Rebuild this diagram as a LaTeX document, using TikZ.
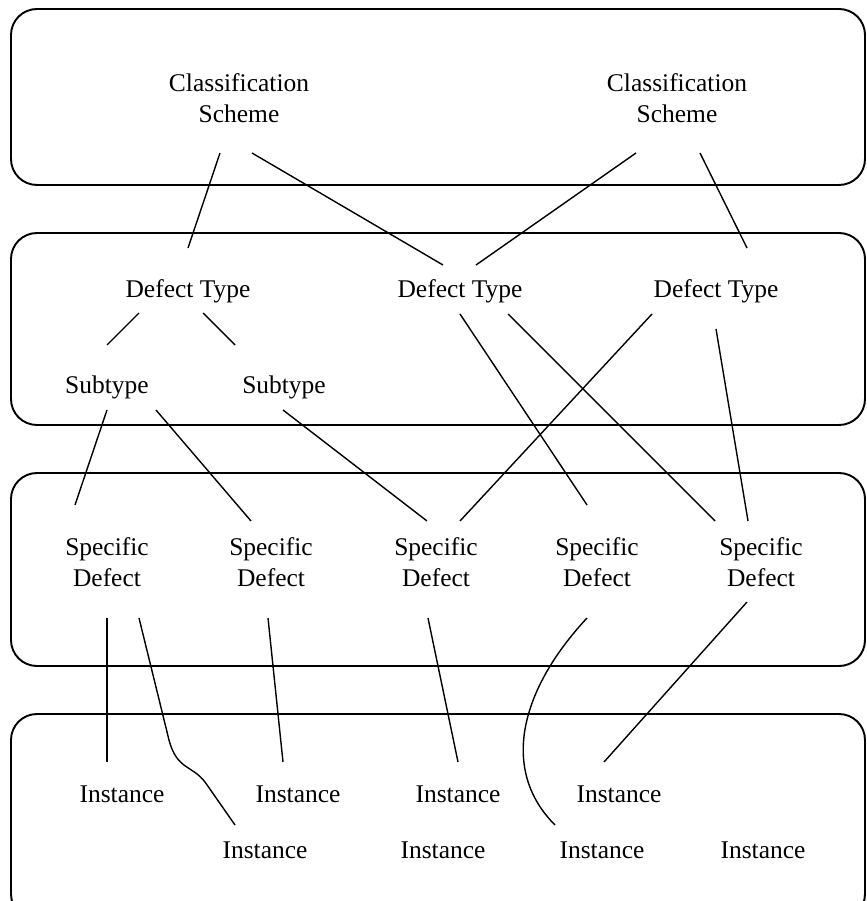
\documentclass[tikz,border=0pt]{standalone}
\usepackage{fontspec}
\setmainfont{Liberation Serif}
\usepackage{tikz}

\begin{document}
\begin{tikzpicture}[x=0.02cm, y=-0.02cm,
  layer/.style={draw, line width=1.1pt, rounded corners=0.52cm},
  lbl/.style={font=\fontsize{14.5}{17.5}\selectfont, align=center, inner sep=0pt},
  link/.style={line width=0.8pt}]
\useasboundingbox (0,0) rectangle (866,901);

% Layers
\draw[layer] (11,9) rectangle (865,185);
\draw[layer] (11,233) rectangle (865,425);
\draw[layer] (11,473) rectangle (865,666);
\draw[layer] (11,714) rectangle (865,920);

% Classification schemes
\node[lbl] (cs1) at (239,98) {Classification\\Scheme};
\node[lbl] (cs2) at (677,98) {Classification\\Scheme};

% Defect types and subtypes
\node[lbl] (dt1) at (188,291) {Defect Type};
\node[lbl] (dt2) at (460,291) {Defect Type};
\node[lbl] (dt3) at (716,291) {Defect Type};
\node[lbl] (st1) at (107,387) {Subtype};
\node[lbl] (st2) at (284,387) {Subtype};

% Specific defects
\node[lbl] (sd1) at (107,562) {Specific\\Defect};
\node[lbl] (sd2) at (271,562) {Specific\\Defect};
\node[lbl] (sd3) at (436,562) {Specific\\Defect};
\node[lbl] (sd4) at (597,562) {Specific\\Defect};
\node[lbl] (sd5) at (761,562) {Specific\\Defect};

% Instances
\node[lbl] (in1) at (122,794) {Instance};
\node[lbl] (in2) at (298,794) {Instance};
\node[lbl] (in3) at (458,794) {Instance};
\node[lbl] (in4) at (619,794) {Instance};
\node[lbl] (in5) at (265,850) {Instance};
\node[lbl] (in6) at (443,850) {Instance};
\node[lbl] (in7) at (602,850) {Instance};
\node[lbl] (in8) at (763,850) {Instance};

% Scheme to type
\draw[link] ([shift={(-19,55)}]cs1.center) -- ([shift={(0,-43)}]dt1.center);
\draw[link] ([shift={(13,55)}]cs1.center) -- ([shift={(-17,-26)}]dt2.center);
\draw[link] ([shift={(-41,55)}]cs2.center) -- ([shift={(16,-26)}]dt2.center);
\draw[link] ([shift={(23,55)}]cs2.center) -- ([shift={(31,-43)}]dt3.center);

% Type to subtype / specific defect
\draw[link] ([shift={(-49,22)}]dt1.center) -- ([shift={(0,-42)}]st1.center);
\draw[link] ([shift={(15,22)}]dt1.center) -- ([shift={(-49,-42)}]st2.center);
\draw[link] ([shift={(0,23)}]dt2.center) -- ([shift={(-10,-57)}]sd4.center);
\draw[link] ([shift={(48,23)}]dt2.center) -- ([shift={(-46,-41)}]sd5.center);
\draw[link] ([shift={(-64,23)}]dt3.center) -- ([shift={(24,-41)}]sd3.center);
\draw[link] ([shift={(0,38)}]dt3.center) -- ([shift={(-13,-41)}]sd5.center);
\draw[link] ([shift={(0,23)}]st1.center) -- ([shift={(-32,-57)}]sd1.center);
\draw[link] ([shift={(49,23)}]st1.center) -- ([shift={(-20,-41)}]sd2.center);
\draw[link] ([shift={(-1,23)}]st2.center) -- ([shift={(-9,-41)}]sd3.center);

% Specific defect to instance
\draw[link] ([shift={(0,56)}]sd1.center) -- ([shift={(-15,-32)}]in1.center);
\draw[link] ([shift={(32,56)}]sd1.center) -- (169,740)
  .. controls (177,770) and (192,765) .. (205,782) -- ([shift={(-30,-25)}]in5.center);
\draw[link] ([shift={(-3,56)}]sd2.center) -- ([shift={(-15,-32)}]in2.center);
\draw[link] ([shift={(-8,56)}]sd3.center) -- ([shift={(0,-32)}]in3.center);
\draw[link] ([shift={(-10,56)}]sd4.center)
  .. controls (520,690) and (500,770) .. ([shift={(-47,-25)}]in7.center);
\draw[link] ([shift={(-14,40)}]sd5.center) -- ([shift={(-15,-32)}]in4.center);
\end{tikzpicture}
\end{document}
